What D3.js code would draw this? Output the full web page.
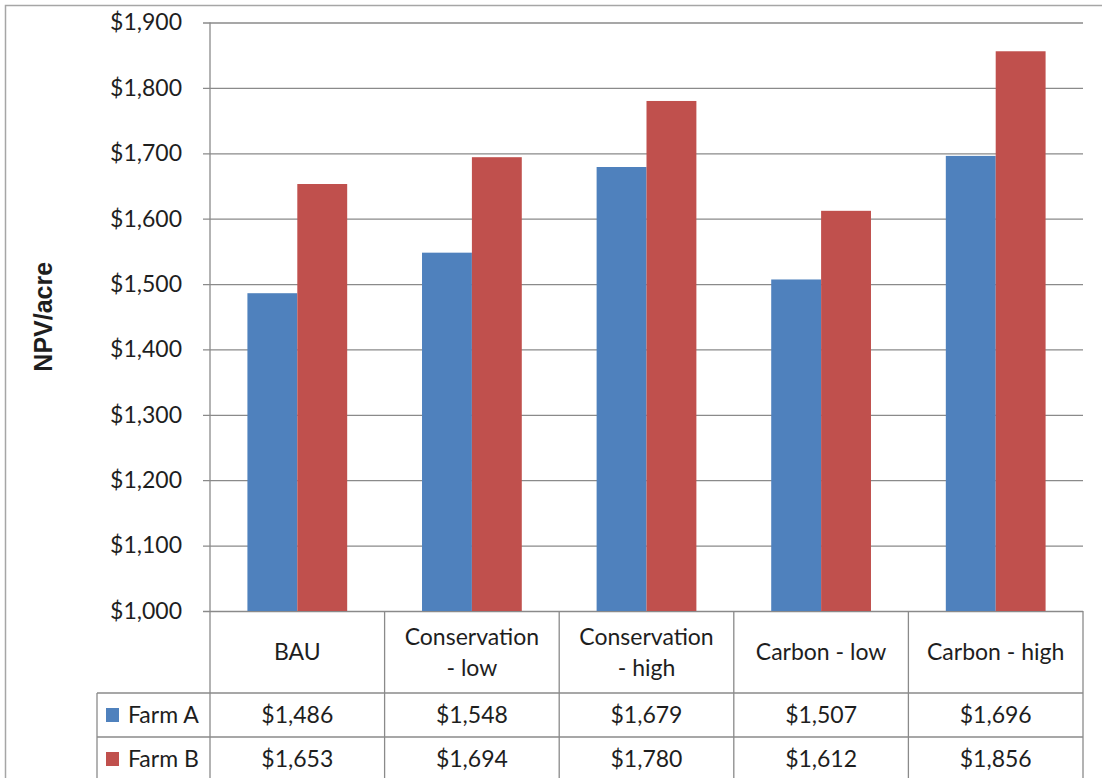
<!DOCTYPE html>
<html>
<head>
<meta charset="utf-8">
<script src="https://cdn.jsdelivr.net/npm/d3@7"></script>
<style>
  html, body { margin: 0; padding: 0; background: #fff; }
  svg { display: block; }
  text { font-family: Lato, "Open Sans", sans-serif; fill: #1e1e1e; }
</style>
</head>
<body>
<svg id="chart" width="1102" height="778"></svg>
<script>
// Scenario names, shown in the data table header
const categories = ["BAU", "Conservation - low", "Conservation - high", "Carbon - low", "Carbon - high"];
// NPV per acre for each farm
const farmA = [1486, 1548, 1679, 1507, 1696];
const farmB = [1653, 1694, 1780, 1612, 1856];
const seriesNames = ["Farm A", "Farm B"];
const seriesColors = ["#4F81BD", "#C0504D"];
// Value axis ticks
const yTicks = [1000, 1100, 1200, 1300, 1400, 1500, 1600, 1700, 1800, 1900];
const yTitle = "NPV/acre";

const svg = d3.select("#chart");
const fmt = d3.format("$,");
const gridColor = "#8a8a8a";
const fontSize = 23;

const plot = { left: 210, right: 1083, top: 22.5, bottom: 611 };
const table = { legendLeft: 97, headerBottom: 693, rowH: 44 };

// Outer chart border
svg.append("rect")
  .attr("x", 5.5).attr("y", 5.5)
  .attr("width", 1200).attr("height", 900)
  .attr("fill", "none").attr("stroke", "#a6a6a6").attr("stroke-width", 1.5);

const x = d3.scaleBand().domain(categories).range([plot.left, plot.right]).padding(0);
const xs = d3.scaleBand().domain(seriesNames).range([0, x.step()]).paddingInner(0).paddingOuter(0.75);
const y = d3.scaleLinear().domain([1000, 1900]).range([plot.bottom, plot.top]);

// Gridlines with tick labels
const yAxis = d3.axisLeft(y)
  .tickValues(yTicks)
  .tickFormat(fmt)
  .tickSize(-(plot.right - plot.left))
  .tickPadding(20);

const gy = svg.append("g").attr("transform", `translate(${plot.left},0)`).call(yAxis);
gy.select(".domain").remove();
gy.selectAll(".tick line")
  .attr("x1", -7)
  .attr("stroke", gridColor).attr("stroke-width", 1.3);
gy.selectAll(".tick text")
  .attr("x", -28)
  .style("font-size", fontSize + "px")
  .style("font-family", "Lato, sans-serif")
  .attr("fill", "#1e1e1e");

// Bars
const rows = categories.map((c, i) => ({ category: c, values: [farmA[i], farmB[i]] }));
const groups = svg.append("g").selectAll("g")
  .data(rows).join("g")
  .attr("transform", d => `translate(${x(d.category)},0)`);
groups.selectAll("rect")
  .data(d => d.values.map((v, j) => ({ series: seriesNames[j], value: v, color: seriesColors[j] })))
  .join("rect")
  .attr("x", d => xs(d.series))
  .attr("width", xs.bandwidth())
  .attr("y", d => y(d.value))
  .attr("height", d => y(1000) - y(d.value))
  .attr("fill", d => d.color);

// Data table lines
const tableBottom = table.headerBottom + 2 * table.rowH;
const lines = svg.append("g").attr("stroke", gridColor).attr("stroke-width", 1.3);
// vertical axis line runs down through the table
lines.append("line").attr("x1", plot.left).attr("x2", plot.left).attr("y1", plot.top).attr("y2", tableBottom + 10);
categories.forEach(c => {
  const xr = x(c) + x.bandwidth();
  lines.append("line").attr("x1", xr).attr("x2", xr).attr("y1", plot.bottom).attr("y2", tableBottom + 10);
});
lines.append("line").attr("x1", table.legendLeft).attr("x2", table.legendLeft).attr("y1", table.headerBottom).attr("y2", tableBottom + 10);
[table.headerBottom, table.headerBottom + table.rowH].forEach(yy => {
  lines.append("line").attr("x1", table.legendLeft).attr("x2", plot.right).attr("y1", yy).attr("y2", yy);
});

// Category header labels, wrapped before " - " if too wide
const header = svg.append("g");
categories.forEach(c => {
  const cx = x(c) + x.bandwidth() / 2;
  const cy = (plot.bottom + table.headerBottom) / 2;
  const t = header.append("text")
    .attr("x", cx).attr("text-anchor", "middle")
    .style("font-size", fontSize + "px");
  t.text(c);
  let parts = [c];
  if (t.node().getComputedTextLength() > x.bandwidth() - 16 && c.includes(" - ")) {
    const k = c.indexOf(" - ");
    parts = [c.slice(0, k), c.slice(k + 1)];
  }
  t.text(null);
  const lh = 31;
  parts.forEach((p, i) => {
    t.append("tspan")
      .attr("x", cx)
      .attr("y", cy + (i - (parts.length - 1) / 2) * lh)
      .attr("dy", "0.35em")
      .text(p);
  });
});

// Value rows with legend keys
[farmA, farmB].forEach((vals, r) => {
  const cy = table.headerBottom + table.rowH * r + table.rowH / 2;
  svg.append("rect")
    .attr("x", 106).attr("y", cy - 7)
    .attr("width", 13).attr("height", 14)
    .attr("fill", seriesColors[r]);
  svg.append("text")
    .attr("x", 128).attr("y", cy).attr("dy", "0.35em")
    .style("font-size", fontSize + "px")
    .text(seriesNames[r]);
  vals.forEach((v, i) => {
    svg.append("text")
      .attr("x", x(categories[i]) + x.bandwidth() / 2)
      .attr("y", cy).attr("dy", "0.35em")
      .attr("text-anchor", "middle")
      .style("font-size", fontSize + "px")
      .text(fmt(v));
  });
});

// Value axis title
svg.append("text")
  .attr("transform", `translate(52, ${(plot.top + plot.bottom) / 2}) rotate(-90)`)
  .attr("text-anchor", "middle")
  .style("font-family", "'Liberation Sans', Arial, sans-serif")
  .style("font-size", "25px")
  .style("font-weight", "bold")
  .attr("fill", "#000")
  .text(yTitle);
</script>
</body>
</html>
